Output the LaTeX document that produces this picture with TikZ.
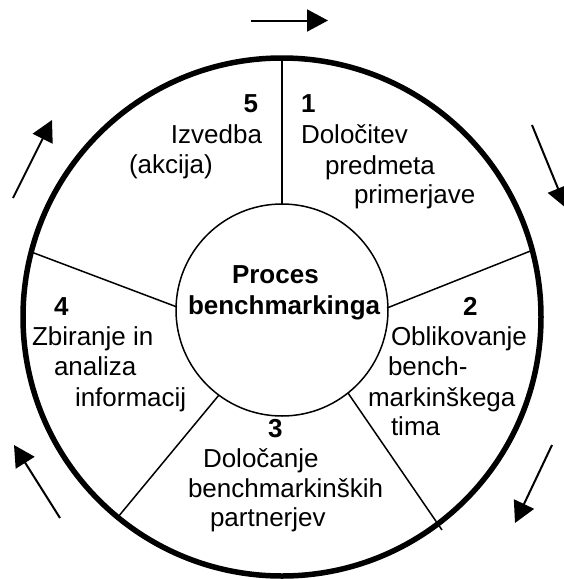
\documentclass[tikz,border=0pt]{standalone}
\usepackage{fontspec}
\setmainfont{Liberation Sans}
\usetikzlibrary{arrows.meta,shapes.geometric}
\begin{document}
\begin{tikzpicture}[x=1pt,y=-1pt,
  lbl/.style={inner sep=0pt, outer sep=0pt, font=\fontsize{26}{30}\selectfont},
  num/.style={inner sep=0pt, outer sep=0pt, font=\fontsize{26}{30}\selectfont\bfseries},
  divider/.style={line width=1.5pt},
  flow/.style={line width=2pt, -{Triangle[length=21pt,width=22pt]}}]
\useasboundingbox (0,0) rectangle (563,579);

% divider end points
\coordinate (r_in) at (387,308);
\coordinate (r_out) at (533,250);
\coordinate (l_in) at (177,307);
\coordinate (l_out) at (30.5,251.7);
\coordinate (br_in) at (348,393);
\coordinate (br_out) at (442,530);
\coordinate (bl_in) at (219,395);
\coordinate (bl_out) at (118,517);

% circles
\node[circle, draw, line width=5.5pt, minimum size=518pt, inner sep=0pt, outer sep=0pt] (rim) at (282,317) {};
\node[circle, draw, line width=1.5pt, minimum size=212pt, inner sep=0pt, outer sep=0pt] (core) at (282,310) {};

% dividers
\draw[divider] (core.north) -- (rim.north);
\draw[divider] (r_in) -- (r_out);
\draw[divider] (l_in) -- (l_out);
\draw[divider] (br_in) -- (br_out);
\draw[divider] (bl_in) -- (bl_out);

% direction arrows
\coordinate (t_a) at (251,20.5);
\coordinate (t_b) at (328,20.5);
\coordinate (tr_a) at (532,125);
\coordinate (tr_b) at (566,208);
\coordinate (brr_a) at (552,445);
\coordinate (brr_b) at (515,523);
\coordinate (bll_a) at (60,518);
\coordinate (bll_b) at (14,445);
\coordinate (tl_a) at (13,198);
\coordinate (tl_b) at (52,120);
\draw[flow] (t_a) -- (t_b);
\draw[flow] (tr_a) -- (tr_b);
\draw[flow] (brr_a) -- (brr_b);
\draw[flow] (bll_a) -- (bll_b);
\draw[flow] (tl_a) -- (tl_b);

% centre
\node[num, anchor=base west] (c1) at (232,283) {Proces};
\node[num, anchor=base west] (c2) at (188,314) {benchmarkinga};

% segment 1
\node[num, anchor=base west] (n1) at (301,112) {1};
\node[lbl, anchor=base west] (s1a) at (301,143) {Določitev};
\node[lbl, anchor=base west] (s1b) at (325,174) {predmeta};
\node[lbl, anchor=base west] (s1c) at (354,203) {primerjave};

% segment 2
\node[num, anchor=base west] (n2) at (463,315) {2};
\node[lbl, anchor=base west] (s2a) at (391,345) {Oblikovanje};
\node[lbl, anchor=base west] (s2b) at (388,375) {bench-};
\node[lbl, anchor=base west] (s2c) at (368,406) {markinškega};
\node[lbl, anchor=base west] (s2d) at (391,435) {tima};

% segment 3
\node[num, anchor=base west] (n3) at (268,437) {3};
\node[lbl, anchor=base west] (s3a) at (203,467) {Določanje};
\node[lbl, anchor=base west] (s3b) at (188,497) {benchmarkinških};
\node[lbl, anchor=base west] (s3c) at (210,526) {partnerjev};

% segment 4
\node[num, anchor=base west] (n4) at (54,315) {4};
\node[lbl, anchor=base west] (s4a) at (32,345) {Zbiranje in};
\node[lbl, anchor=base west] (s4b) at (54,375) {analiza};
\node[lbl, anchor=base west] (s4c) at (75,406) {informacij};

% segment 5
\node[num, anchor=base east] (n5) at (258,112) {5};
\node[lbl, anchor=base east] (s5a) at (262,143) {Izvedba};
\node[lbl, anchor=base west] (s5b) at (129,173) {(akcija)};
\end{tikzpicture}
\end{document}
